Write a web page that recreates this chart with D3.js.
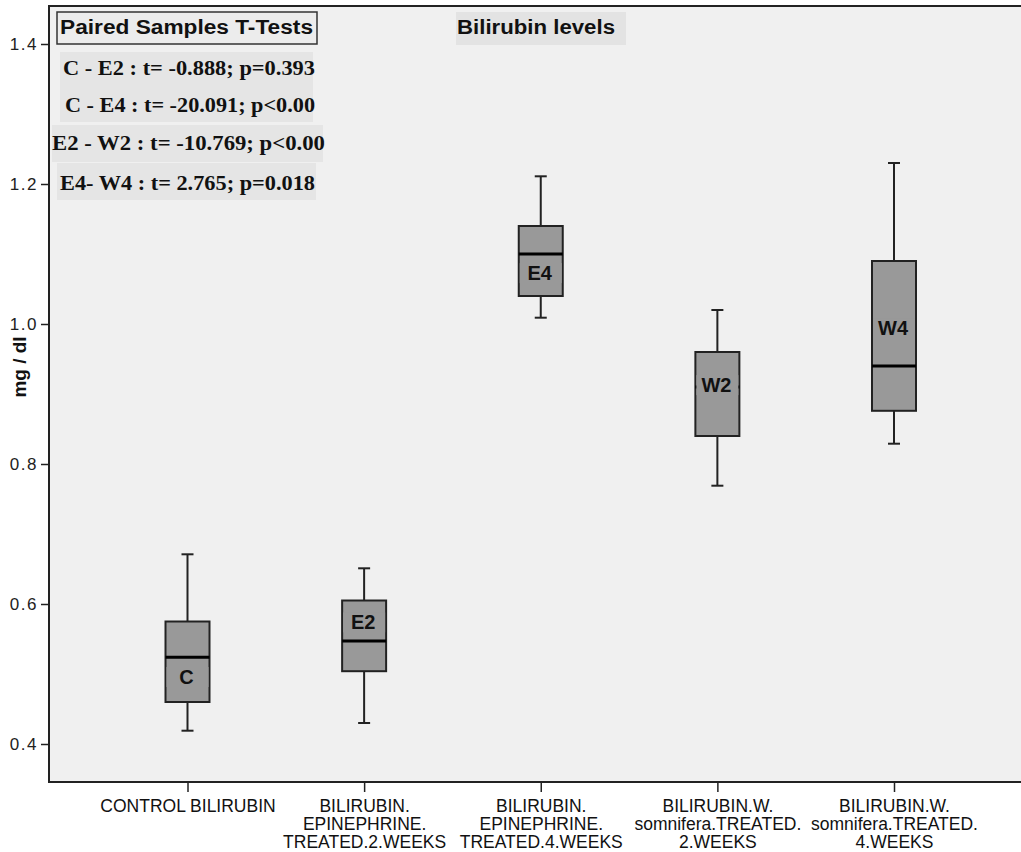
<!DOCTYPE html>
<html>
<head>
<meta charset="utf-8">
<script src="https://cdn.jsdelivr.net/npm/d3@7"></script>
<style>
  html, body { margin: 0; padding: 0; background: #ffffff; }
  svg { display: block; }
</style>
</head>
<body>
<svg id="chart" width="1021" height="852"></svg>
<script>
// ---- data ----
const categories = ["C", "E2", "E4", "W2", "W4"];
const categoryLabels = [
  ["CONTROL BILIRUBIN"],
  ["BILIRUBIN.", "EPINEPHRINE.", "TREATED.2.WEEKS"],
  ["BILIRUBIN.", "EPINEPHRINE.", "TREATED.4.WEEKS"],
  ["BILIRUBIN.W.", "somnifera.TREATED.", "2.WEEKS"],
  ["BILIRUBIN.W.", "somnifera.TREATED.", "4.WEEKS"]
];
const whiskerLow  = [0.419, 0.430, 1.009, 0.769, 0.829];
const q1          = [0.460, 0.504, 1.040, 0.840, 0.876];
const median      = [0.524, 0.547, 1.100, 0.910, 0.940];
const q3          = [0.575, 0.605, 1.140, 0.960, 1.090];
const whiskerHigh = [0.671, 0.651, 1.211, 1.020, 1.230];
const boxLabelY   = [0.496, 0.574, 1.073, 0.913, 0.994];
const yTicks = [0.4, 0.6, 0.8, 1.0, 1.2, 1.4];
const title = "Bilirubin levels";
const yTitle = "mg / dl";
const testsTitle = "Paired Samples T-Tests";
const testLines = [
  "C - E2 : t= -0.888; p=0.393",
  "C - E4 : t= -20.091; p<0.00",
  "E2 - W2 : t= -10.769; p<0.00",
  "E4- W4 : t= 2.765; p=0.018"
];

// ---- layout ----
const svg = d3.select("#chart");
const plot = { left: 49, top: 6, right: 1021, bottom: 782 };

const x = d3.scalePoint().domain(categories).range([187.5, 894]);
const y = d3.scaleLinear().domain([0.4, 1.4]).range([744, 44]);

// plot background
svg.append("rect")
  .attr("x", plot.left).attr("y", plot.top)
  .attr("width", plot.right - plot.left).attr("height", plot.bottom - plot.top)
  .attr("fill", "#f0f0f0");

// frame lines (left, top, bottom)
svg.append("line").attr("x1", plot.left).attr("x2", plot.right)
  .attr("y1", plot.top).attr("y2", plot.top)
  .attr("stroke", "#222").attr("stroke-width", 2);
svg.append("line").attr("x1", plot.left).attr("x2", plot.right)
  .attr("y1", plot.bottom).attr("y2", plot.bottom)
  .attr("stroke", "#222").attr("stroke-width", 2);
svg.append("line").attr("x1", plot.left).attr("x2", plot.left)
  .attr("y1", plot.top - 1).attr("y2", plot.bottom + 1)
  .attr("stroke", "#222").attr("stroke-width", 2);

// y axis
const yAxis = svg.append("g")
  .attr("transform", `translate(${plot.left},0)`)
  .call(d3.axisLeft(y).tickValues(yTicks).tickFormat(d3.format(".1f")).tickSize(8).tickPadding(3));
yAxis.select(".domain").remove();
yAxis.attr("font-size", null).attr("font-family", null);
yAxis.selectAll(".tick line").attr("stroke", "#222").attr("stroke-width", 1.5);
yAxis.selectAll(".tick text")
  .style("font-family", "Liberation Sans, Arial, sans-serif")
  .style("font-size", "17px").style("letter-spacing", "1.5px").attr("fill", "#222");

// x axis
const xAxis = svg.append("g")
  .attr("transform", `translate(0,${plot.bottom})`)
  .call(d3.axisBottom(x).tickSize(10).tickFormat(""));
xAxis.select(".domain").remove();
xAxis.attr("font-size", null).attr("font-family", null);
xAxis.selectAll(".tick line").attr("stroke", "#222").attr("stroke-width", 1.5);
xAxis.selectAll(".tick").each(function(d, i) {
  const t = d3.select(this).append("text")
    .style("font-family", "Liberation Sans, Arial, sans-serif")
    .style("font-size", "17.5px").attr("fill", "#111")
    .attr("text-anchor", "middle");
  categoryLabels[i].forEach((ln, k) => {
    t.append("tspan").attr("x", 0).attr("y", 30 + k * 18).text(ln);
  });
});

// y title
svg.append("text")
  .attr("transform", "translate(26,367) rotate(-90)")
  .attr("text-anchor", "middle")
  .style("font-family", "Liberation Sans, Arial, sans-serif")
  .style("font-weight", "bold").style("font-size", "19px").attr("fill", "#111")
  .text(yTitle);

// boxes
const boxW = 44, capW = 12;
const g = svg.append("g");
categories.forEach((c, i) => {
  const cx = x(c);
  const gg = g.append("g");
  // whiskers
  gg.append("line").attr("x1", cx).attr("x2", cx)
    .attr("y1", y(whiskerHigh[i])).attr("y2", y(q3[i]))
    .attr("stroke", "#222").attr("stroke-width", 2);
  gg.append("line").attr("x1", cx).attr("x2", cx)
    .attr("y1", y(q1[i])).attr("y2", y(whiskerLow[i]))
    .attr("stroke", "#222").attr("stroke-width", 2);
  [whiskerHigh[i], whiskerLow[i]].forEach(v => {
    gg.append("line").attr("x1", cx - capW / 2).attr("x2", cx + capW / 2)
      .attr("y1", y(v)).attr("y2", y(v))
      .attr("stroke", "#222").attr("stroke-width", 2);
  });
  // box
  gg.append("rect")
    .attr("x", cx - boxW / 2).attr("y", y(q3[i]))
    .attr("width", boxW).attr("height", y(q1[i]) - y(q3[i]))
    .attr("fill", "#999999").attr("stroke", "#222").attr("stroke-width", 2);
  // median
  gg.append("line").attr("x1", cx - boxW / 2).attr("x2", cx + boxW / 2)
    .attr("y1", y(median[i])).attr("y2", y(median[i]))
    .attr("stroke", "#000").attr("stroke-width", 3);
  // label with background
  const lbl = gg.append("text")
    .attr("x", cx - 1).attr("y", y(boxLabelY[i]))
    .attr("dy", "0.36em")
    .attr("text-anchor", "middle")
    .style("font-family", "Liberation Sans, Arial, sans-serif")
    .style("font-weight", "bold").style("font-size", "20px").attr("fill", "#111")
    .text(c);
  const bb = lbl.node().getBBox();
  const bw = Math.max(bb.width + 4, boxW - 2);
  gg.insert("rect", "text")
    .attr("x", cx - bw / 2).attr("y", bb.y + 1)
    .attr("width", bw).attr("height", bb.height - 2)
    .attr("fill", "#999999");
});

// title
svg.append("rect").attr("x", 456).attr("y", 12).attr("width", 170).attr("height", 33)
  .attr("fill", "#e3e3e3");
svg.append("text").attr("x", 457).attr("y", 34)
  .style("font-family", "Liberation Sans, Arial, sans-serif")
  .style("font-weight", "bold").style("font-size", "20px").attr("fill", "#111")
  .attr("textLength", 158).attr("lengthAdjust", "spacingAndGlyphs")
  .text(title);

// paired tests box
svg.append("rect").attr("x", 57).attr("y", 12).attr("width", 260).attr("height", 32)
  .attr("fill", "#ececec").attr("stroke", "#333").attr("stroke-width", 1.5);
svg.append("text").attr("x", 60).attr("y", 34)
  .style("font-family", "Liberation Sans, Arial, sans-serif")
  .style("font-weight", "bold").style("font-size", "20px").attr("fill", "#111")
  .attr("textLength", 253).attr("lengthAdjust", "spacingAndGlyphs")
  .text(testsTitle);

// backgrounds of test lines
const bgRects = [[60, 52, 253, 70], [52, 125, 271, 37], [57, 163, 259, 37]];
bgRects.forEach(r => svg.append("rect")
  .attr("x", r[0]).attr("y", r[1]).attr("width", r[2]).attr("height", r[3])
  .attr("fill", "#e5e5e5"));
const lineX = [63, 65, 52, 60];
const lineW = [252, 250, 273, 255];
const lineY = [75, 112, 150, 190];
testLines.forEach((t, i) => {
  svg.append("text").attr("x", lineX[i]).attr("y", lineY[i])
    .style("font-family", "Liberation Serif, Times New Roman, serif")
    .style("font-weight", "bold").style("font-size", "21px").attr("fill", "#111")
    .attr("textLength", lineW[i]).attr("lengthAdjust", "spacingAndGlyphs")
    .text(t);
});
</script>
</body>
</html>
